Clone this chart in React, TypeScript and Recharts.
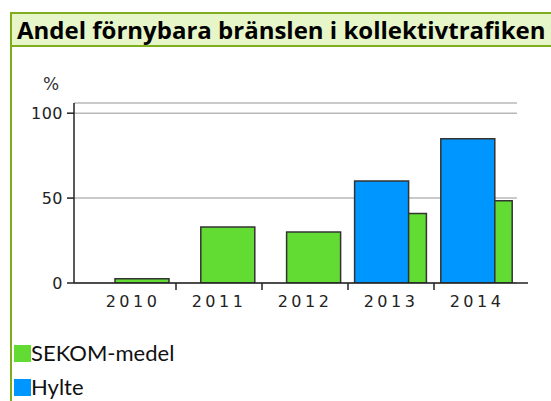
import React from 'react';
import { BarChart, Bar, XAxis, YAxis, CartesianGrid, Legend } from 'recharts';

const years = ['2010', '2011', '2012', '2013', '2014'];
const sekomValues = [2.5, 33, 30, 41, 48.5];
const hylteValues: (number | null)[] = [null, null, null, 60, 85];
const yTicks = [0, 50, 100];
// category boundaries, in category-index units (between 2010|2011, 2011|2012, ...)
const boundaryTicks = [0.5, 1.5, 2.5, 3.5];
const legendOrder = ['SEKOM-medel', 'Hylte'];

const data = years.map((year, i) => ({ year, sekom: sekomValues[i], hylte: hylteValues[i] }));

const GREEN = '#62dc33';
const BLUE = '#0096ff';
const AXIS = '#222';
const xTickFont = { fontFamily: 'DejaVu Sans', fontSize: 16, fill: '#222', letterSpacing: 3.5 };
const yTickFont = { fontFamily: 'DejaVu Sans', fontSize: 16, fill: '#222', letterSpacing: 0.5 };

const LegendContent = (props: any) => {
  const items = [...(props.payload || [])].sort(
    (a: any, b: any) => legendOrder.indexOf(a.value) - legendOrder.indexOf(b.value)
  );
  return (
    <div>
      {items.map((it: any, i: number) => (
        <div key={i} style={{ display: 'flex', alignItems: 'center', height: 34 }}>
          <div style={{ width: 17, height: 17, background: it.color }} />
          <span style={{ fontFamily: 'Lato', fontSize: 22, color: '#111', lineHeight: '34px' }}>{it.value}</span>
        </div>
      ))}
    </div>
  );
};

const TINY = 0.001;

export default function App() {
  return (
    <div style={{ position: 'fixed', left: 0, top: 0, width: 551, height: 401, overflow: 'hidden', background: '#fff' }}>
      <div style={{ position: 'absolute', left: 10, top: 12, width: 541, height: 2, background: '#7fae1c' }} />
      <div style={{ position: 'absolute', left: 10, top: 12, width: 2, height: 389, background: '#7fae1c' }} />
      <div style={{ position: 'absolute', left: 12, top: 14, width: 539, height: 31, background: '#e6f6c9', borderBottom: '2px solid #7fae1c', boxSizing: 'content-box' }}>
        <div style={{ position: 'absolute', left: 5, top: 0, fontFamily: 'Open Sans', fontWeight: 700, fontSize: 24, lineHeight: '31px', color: '#000', whiteSpace: 'nowrap' }}>
          Andel förnybara bränslen i kollektivtrafiken
        </div>
      </div>
      <div style={{ position: 'absolute', left: 43, top: 74, fontFamily: 'DejaVu Sans', fontSize: 17, color: '#333' }}>%</div>
      <div style={{ position: 'absolute', left: 0, top: 0 }}>
        <BarChart width={551} height={401} data={data} margin={{ top: 103, right: 23, bottom: 0, left: 0 }}>
          <CartesianGrid vertical={false} stroke="#b8b8b8" strokeWidth={1.5} x={74} width={443} />
          <XAxis xAxisId="lab" dataKey="year" height={50} padding={{ left: 16, right: 8 }}
            axisLine={{ stroke: AXIS, strokeWidth: 1.5 }} tickLine={false} tickSize={7} tickMargin={6}
            tick={xTickFont} interval={0} />
          <XAxis xAxisId="g" dataKey="year" hide height={TINY} padding={{ left: 25, right: 0 }} />
          <XAxis xAxisId="b" dataKey="year" hide height={TINY} padding={{ left: 6, right: 17 }} />
          <YAxis width={74} domain={[0, 106]} ticks={yTicks} interval={0} allowDataOverflow
            axisLine={{ stroke: AXIS, strokeWidth: 1.5 }} tickLine={{ stroke: AXIS, strokeWidth: 1.5 }}
            tickSize={7} tickMargin={4} tick={yTickFont} />
          <Bar xAxisId="g" dataKey="sekom" name="SEKOM-medel" fill={GREEN} stroke="#333" strokeWidth={1.5} barSize={54} isAnimationActive={false} />
          <Bar xAxisId="b" dataKey="hylte" name="Hylte" fill={BLUE} stroke="#333" strokeWidth={1.5} barSize={54} isAnimationActive={false} />
          <XAxis xAxisId="a0" type="number" domain={[0, 4]} ticks={boundaryTicks} allowDataOverflow
            padding={{ left: 59, right: 51 }} height={TINY} axisLine={false} tickFormatter={() => ''}
            tickSize={7} tickLine={{ stroke: AXIS, strokeWidth: 1.5 }} />
          <Legend content={<LegendContent />} wrapperStyle={{ position: 'absolute', left: 14, top: 336, width: 300 }} />
        </BarChart>
      </div>
    </div>
  );
}
